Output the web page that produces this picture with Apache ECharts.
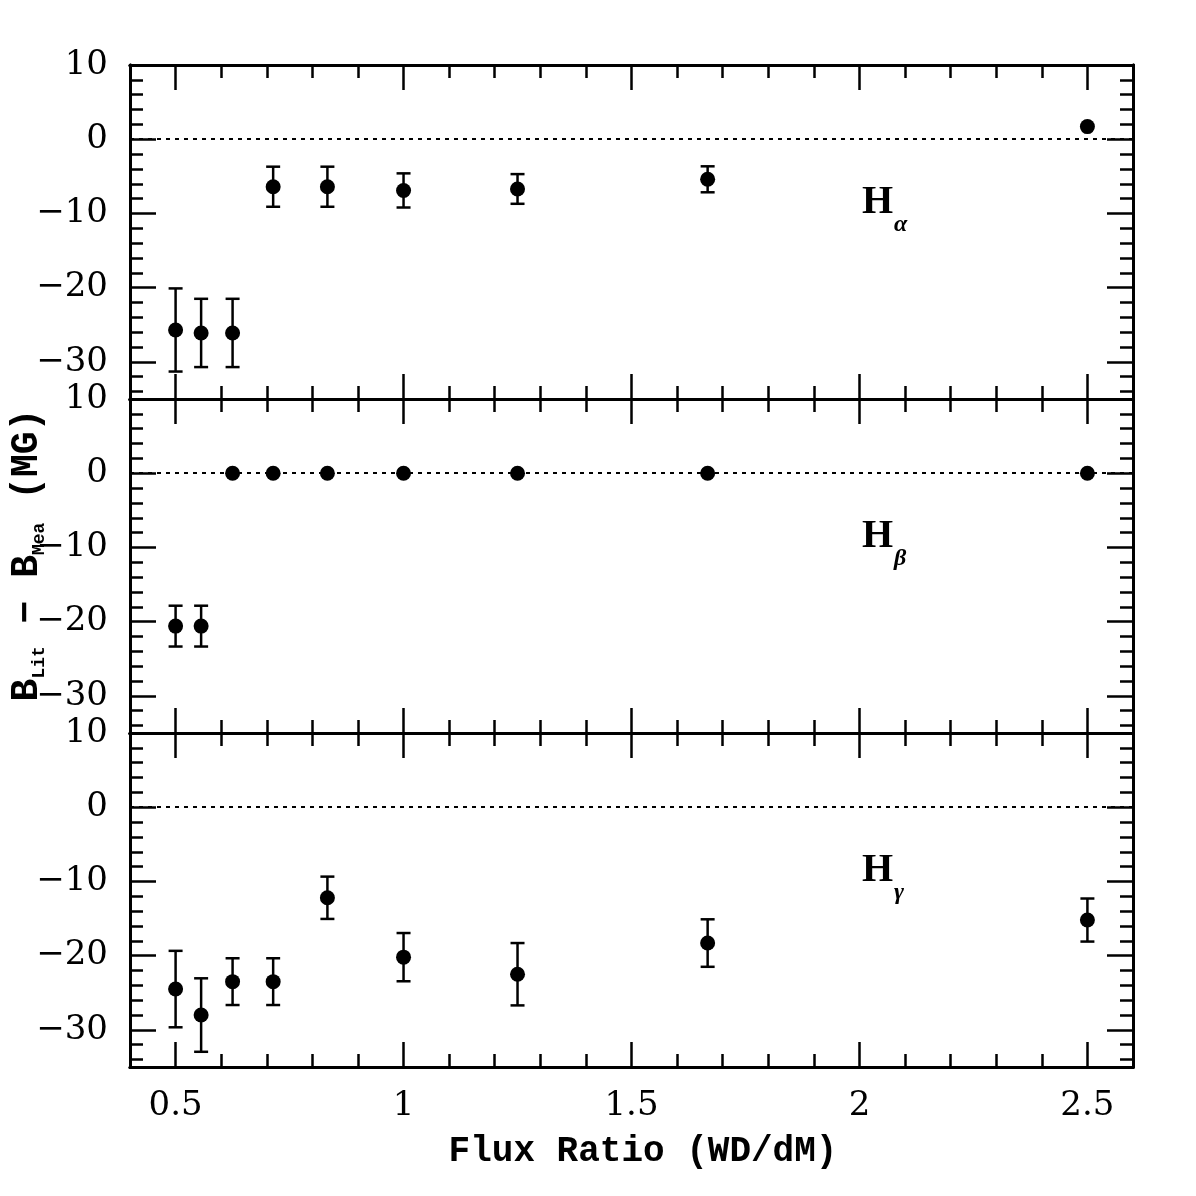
<!DOCTYPE html>
<html>
<head>
<meta charset="utf-8">
<script src="https://cdn.jsdelivr.net/npm/echarts@6/dist/echarts.min.js"></script>
<style>
  html, body { margin: 0; padding: 0; background: #fff; }
  #main { width: 1196px; height: 1196px; }
</style>
</head>
<body>
<div id="main"></div>
<script>
// flux ratio (WD/dM) of every model
var fluxRatio = [0.5, 0.556, 0.625, 0.714, 0.833, 1.0, 1.25, 1.667, 2.5];

// B_Lit - B_Mea (MG) and error per line
var alphaVal = [-25.7, -26.1, -26.1, -6.4, -6.4, -6.9, -6.7, -5.4, 1.7];
var alphaErr = [5.6, 4.6, 4.6, 2.7, 2.7, 2.3, 2.0, 1.75, 0];
var betaVal = [-20.6, -20.6, 0, 0, 0, 0, 0, 0, 0];
var betaErr = [2.75, 2.75, 0, 0, 0, 0, 0, 0, 0];
var gammaVal = [-24.5, -28.0, -23.5, -23.5, -12.2, -20.2, -22.5, -18.3, -15.2];
var gammaErr = [5.15, 4.95, 3.15, 3.15, 2.85, 3.25, 4.2, 3.2, 2.9];

// ticks
var xMajor = [0.5, 1, 1.5, 2, 2.5];
var yMajor = [-30, -20, -10, 0, 10];
var xMinor = [];
for (var i = 4; i <= 26; i++) xMinor.push(i / 10);
var yMinor = [];
for (var j = -34; j <= 10; j += 2) yMinor.push(j);

var panels = [
    { name: 'H', sub: 'α', vals: alphaVal, errs: alphaErr },
    { name: 'H', sub: 'β', vals: betaVal, errs: betaErr },
    { name: 'H', sub: 'γ', vals: gammaVal, errs: gammaErr }
];

var LEFT = 130, RIGHT = 63, TOP = 65, PH = 334;
var tickFont = { fontFamily: 'DejaVu Serif', fontSize: 34, color: '#000' };

var chart = echarts.init(document.getElementById('main'));

var grids = [], xAxes = [], yAxes = [], series = [], graphics = [];

function axisBase(extra) {
    var a = {
        type: 'value',
        axisLine: { show: true, onZero: false, lineStyle: { color: '#000', width: 3 } },
        splitLine: { show: false },
        axisLabel: { show: false },
        axisTick: { show: true, inside: true, lineStyle: { color: '#000', width: 2.5 } }
    };
    for (var k in extra) a[k] = extra[k];
    return a;
}

panels.forEach(function (p, g) {
    grids.push({ left: LEFT, right: RIGHT, top: TOP + g * PH, height: PH });

    var xi = xAxes.length;
    ['bottom', 'top'].forEach(function (pos) {
        var maj = axisBase({ gridIndex: g, position: pos, min: 0.4, max: 2.6 });
        maj.axisTick.customValues = xMajor;
        maj.axisTick.length = 25;
        if (pos === 'bottom' && g === 2) {
            maj.axisLabel = Object.assign({ show: true, customValues: xMajor, margin: 22 }, tickFont);
        }
        xAxes.push(maj);
        var mn = axisBase({ gridIndex: g, position: pos, min: 0.4, max: 2.6 });
        mn.axisTick.customValues = xMinor;
        mn.axisTick.length = 13;
        xAxes.push(mn);
    });

    var yi = yAxes.length;
    ['left', 'right'].forEach(function (pos) {
        var maj = axisBase({ gridIndex: g, position: pos, min: -35, max: 10 });
        maj.axisTick.customValues = yMajor;
        maj.axisTick.length = 26;
        if (pos === 'left') {
            maj.axisLabel = Object.assign({
                show: true, customValues: yMajor, margin: 22,
                formatter: function (v) { return String(v).replace('-', '\u2212'); }
            }, tickFont);
        }
        yAxes.push(maj);
        var mn = axisBase({ gridIndex: g, position: pos, min: -35, max: 10 });
        mn.axisTick.customValues = yMinor;
        mn.axisTick.length = 13;
        yAxes.push(mn);
    });

    var pts = fluxRatio.map(function (x, k) { return [x, p.vals[k], p.errs[k]]; });

    series.push({
        type: 'custom',
        xAxisIndex: xi, yAxisIndex: yi,
        z: 3,
        silent: true,
        data: pts,
        renderItem: function (params, api) {
            var x = api.value(0), y = api.value(1), e = api.value(2);
            if (!e) return null;
            var hi = api.coord([x, y + e]), lo = api.coord([x, y - e]);
            var w = 7, st = { stroke: '#000', lineWidth: 2.5 };
            return {
                type: 'group',
                children: [
                    { type: 'line', shape: { x1: hi[0], y1: hi[1], x2: lo[0], y2: lo[1] }, style: st },
                    { type: 'line', shape: { x1: hi[0] - w, y1: hi[1], x2: hi[0] + w, y2: hi[1] }, style: st },
                    { type: 'line', shape: { x1: lo[0] - w, y1: lo[1], x2: lo[0] + w, y2: lo[1] }, style: st }
                ]
            };
        }
    });

    series.push({
        type: 'scatter',
        xAxisIndex: xi, yAxisIndex: yi,
        z: 4,
        symbol: 'circle',
        symbolSize: 15,
        itemStyle: { color: '#000', opacity: 1 },
        data: pts,
        markLine: {
            silent: true,
            symbol: 'none',
            label: { show: false },
            lineStyle: { color: '#000', width: 2, type: [4, 5], opacity: 1 },
            data: [{ yAxis: 0 }]
        }
    });

    graphics.push({
        type: 'text',
        left: 862,
        top: TOP + g * PH + 118,
        style: {
            text: '{h|' + p.name + '}{s|' + p.sub + '}',
            rich: {
                h: { fontFamily: 'Liberation Serif', fontWeight: 'bold', fontSize: 40, lineHeight: 40, verticalAlign: 'top', fill: '#000' },
                s: { fontFamily: 'Liberation Serif', fontWeight: 'bold', fontStyle: 'italic', fontSize: 24, lineHeight: 20, padding: [30, 0, 0, 1], verticalAlign: 'top', fill: '#000' }
            }
        }
    });
});

// axis titles
graphics.push({
    type: 'text',
    x: 643,
    y: 1134,
    style: {
        text: 'Flux Ratio (WD/dM)',
        align: 'center',
        fontFamily: 'Liberation Mono', fontWeight: 'bold', fontSize: 36, fill: '#000'
    }
});
graphics.push({
    type: 'text',
    x: 8,
    y: 555,
    rotation: Math.PI / 2,
    style: {
        text: '{b|B}{s|Lit}{b| \u2212 B}{s|Mea}{b| (MG)}',
        align: 'center',
        verticalAlign: 'top',
        rich: {
            b: { fontFamily: 'Liberation Mono', fontWeight: 'bold', fontSize: 38, lineHeight: 28, verticalAlign: 'top', fill: '#000' },
            s: { fontFamily: 'Liberation Mono', fontWeight: 'bold', fontSize: 18, lineHeight: 14, padding: [22, 0, 0, 0], verticalAlign: 'top', fill: '#000' }
        }
    }
});

chart.setOption({
    backgroundColor: '#fff',
    animation: false,
    grid: grids,
    xAxis: xAxes,
    yAxis: yAxes,
    series: series,
    graphic: graphics
});
</script>
</body>
</html>
